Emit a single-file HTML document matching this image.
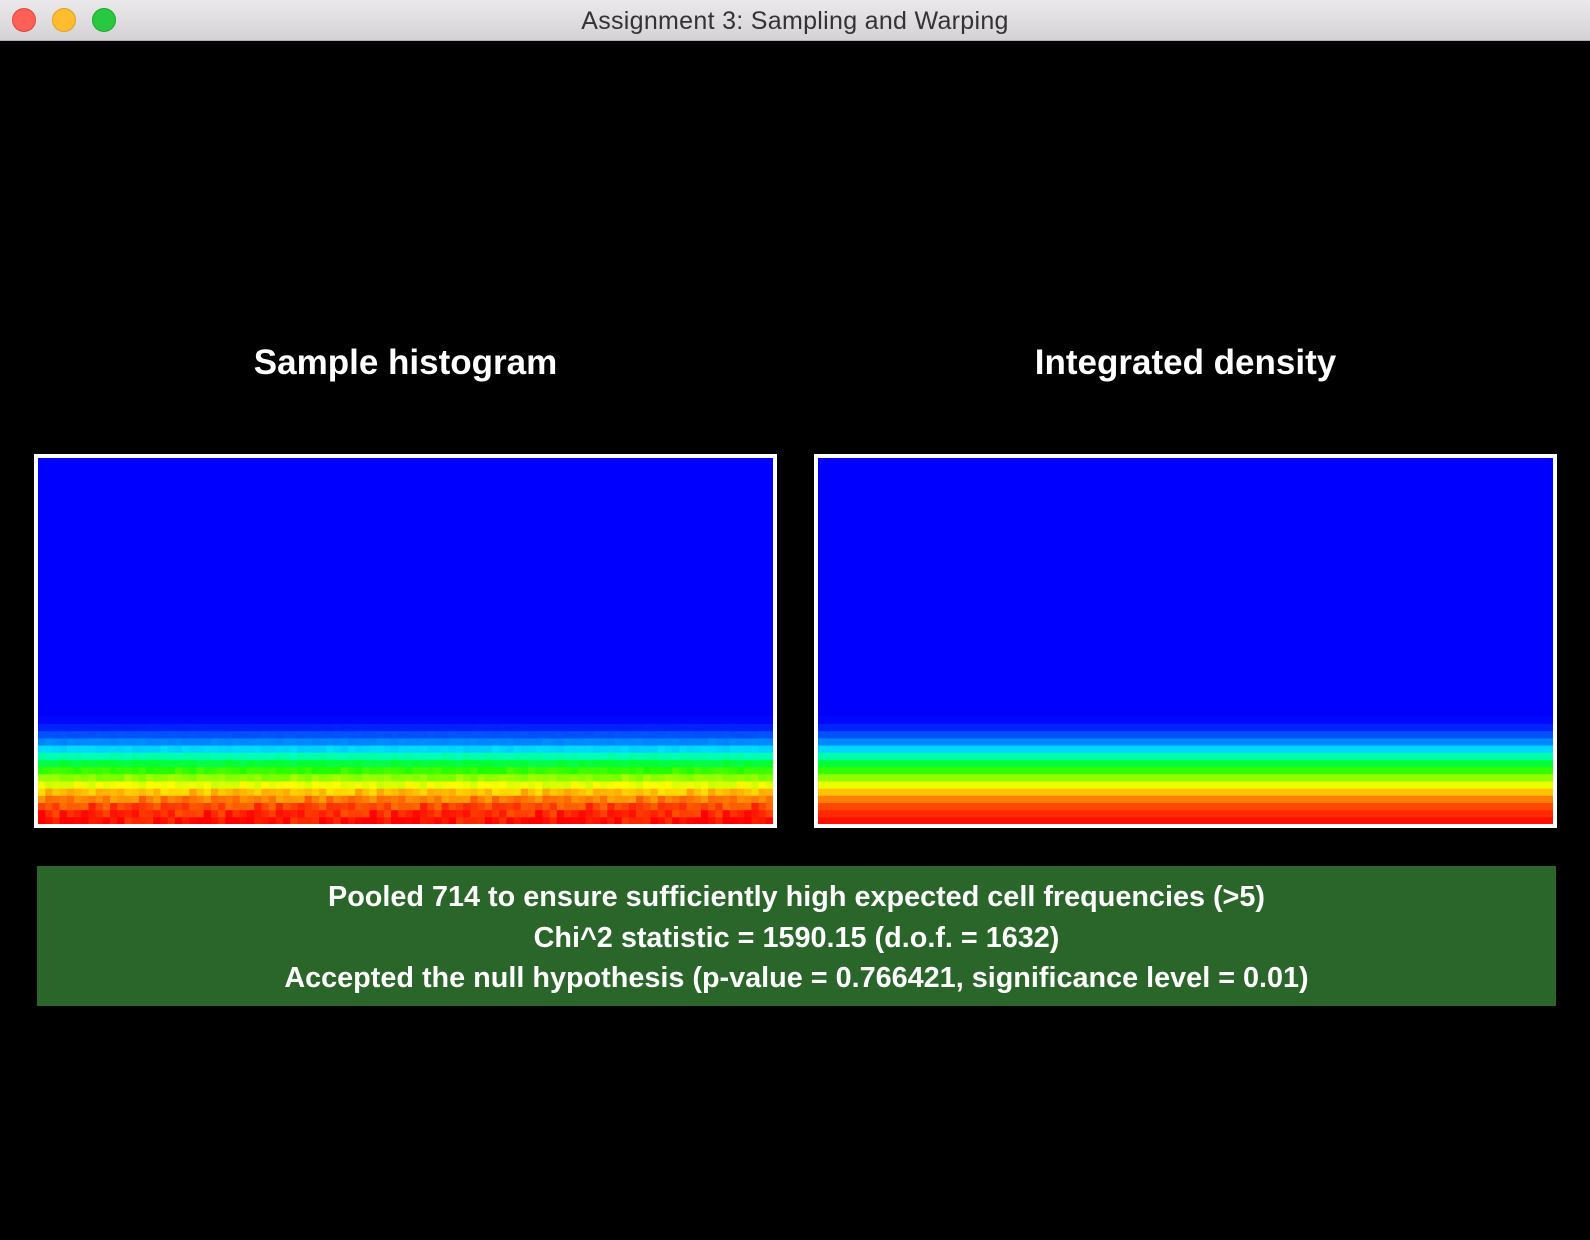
<!DOCTYPE html>
<html><head><meta charset="utf-8"><style>
body{margin:0;width:1590px;height:1240px;background:#000;overflow:hidden;font-family:"Liberation Sans",sans-serif;position:relative}
.tb{position:absolute;left:0;top:0;width:1590px;height:41px;background:linear-gradient(#ebe9eb,#d4d2d4);border-bottom:1px solid #b0b0b0;box-sizing:border-box}
.dot{position:absolute;top:8px;width:24px;height:24px;border-radius:50%}
.tt{position:absolute;left:0;width:1590px;top:7px;text-align:center;font-size:25px;color:#333;letter-spacing:0.3px}
.h{position:absolute;top:343px;font-size:35px;font-weight:bold;color:#fff;text-align:center;width:743px}
.panel{position:absolute;top:454px;width:743px;height:374px;border:4px solid #fff;box-sizing:border-box;background:#00f}
.box{position:absolute;left:37px;top:866px;width:1519px;height:140px;background:#2a6629;color:#fff;font-weight:bold;font-size:28.8px;text-align:center;line-height:40.5px;padding-top:11px;box-sizing:border-box}
</style></head><body>
<div class="tb">
<div class="dot" style="left:12px;background:#fe5f57;border:1px solid #e0443e;box-sizing:border-box"></div>
<div class="dot" style="left:52px;background:#febc2e;border:1px solid #dea123;box-sizing:border-box"></div>
<div class="dot" style="left:92px;background:#28c840;border:1px solid #1aab29;box-sizing:border-box"></div>
<div class="tt">Assignment 3: Sampling and Warping</div>
</div>
<div class="h" style="left:34px">Sample histogram</div>
<div class="h" style="left:814px">Integrated density</div>
<div class="panel" style="left:34px"><svg id="hist" width="735" height="366" style="display:block"></svg></div>
<div class="panel" style="left:814px"><svg id="dens" width="735" height="366" style="display:block"></svg></div>
<div class="box">
<div>Pooled 714 to ensure sufficiently high expected cell frequencies (&gt;5)</div>
<div>Chi^2 statistic = 1590.15 (d.o.f. = 1632)</div>
<div>Accepted the null hypothesis (p-value = 0.766421, significance level = 0.01)</div>
</div>
<script>
// normalized density per row, bottom row first
const rowValues=[0.985,0.96,0.93,0.875,0.81,0.73,0.64,0.55,0.44,0.33,0.21,0.133,0.08,0.033,0.008];
// sampling noise pattern for the histogram
const jitter=[0.02,-0.03,0.01,0.04,-0.02,0,-0.04,0.03,-0.01,0.02,-0.03,0.05,-0.02,0.01,-0.05,0.03,0,-0.01,0.04,-0.03,0.02,-0.04,0.01];
const nCols=102,nRows=51;
const W=735,H=366,cw=W/nCols,ch=H/nRows;
const ns="http://www.w3.org/2000/svg";
function color(v){v=Math.max(0,Math.min(1,v));return "hsl("+(240*(1-v))+",100%,50%)";}
function draw(id,noisy){
 const svg=document.getElementById(id);
 for(let r=0;r<rowValues.length;r++){
  if(!noisy){
   const e=document.createElementNS(ns,"rect");
   
   
   e.setAttribute("x",0);e.setAttribute("y",H-(r+1)*ch);e.setAttribute("width",W);e.setAttribute("height",ch+0.5);
   e.setAttribute("fill",color(rowValues[r]));svg.appendChild(e);
  } else {
   for(let c=0;c<nCols;c++){
    const v=rowValues[r]+jitter[(c*5+r*11)%jitter.length]*rowValues[r]*0.8;
    const e=document.createElementNS(ns,"rect");
    
    
    e.setAttribute("x",c*cw);e.setAttribute("y",H-(r+1)*ch);e.setAttribute("width",cw+0.5);e.setAttribute("height",ch+0.5);
    e.setAttribute("fill",color(v));svg.appendChild(e);
   }
  }
 }
}
draw("hist",true);draw("dens",false);
</script>
</body></html>
